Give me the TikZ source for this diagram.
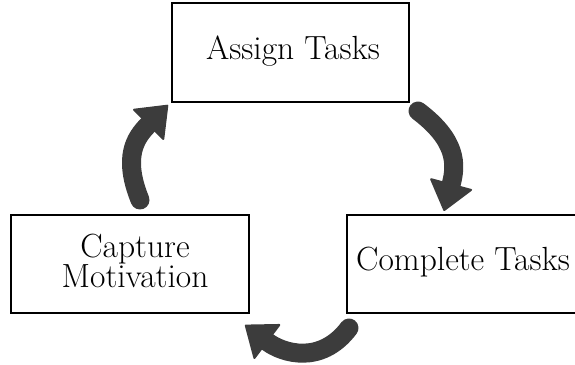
\documentclass[tikz,border=0pt]{standalone}
\usetikzlibrary{arrows.meta}
\definecolor{arrowgray}{RGB}{60,60,60}
\begin{document}
\begin{tikzpicture}[x=1pt,y=1pt,
  box/.style={draw=black, line width=1.6pt, minimum width=238pt,
    minimum height=98pt, inner sep=0pt},
  caption/.style={font=\fontsize{33.5}{29}\selectfont, align=center, inner sep=0pt},
  cyclearrow/.style={draw=arrowgray, line width=19pt, line cap=round,
    -{Triangle[length=29pt, width=45pt, line width=2pt, round]}}]
  \useasboundingbox (0,0) rectangle (575,364);

  % the three stages
  \node[box, minimum width=237pt, minimum height=99pt] (assign) at (290.5,311.5) {};
  \node[caption] (assignText) at (293,312.5) {Assign Tasks};

  \node[box] (capture) at (130,100) {};
  \node[caption] (captureText) at (135,103) {Capture\\Motivation};

  \node[box] (complete) at (466,100) {};
  \node[caption] (completeText) at (463,102) {Complete Tasks};

  % ends of the curved arrows
  \coordinate (leftTail) at (140,164);
  \coordinate (leftTip) at (168,259);
  \coordinate (rightTail) at (418,253);
  \coordinate (rightTip) at (444,153);
  \coordinate (bottomTail) at (349,36);
  \coordinate (bottomTip) at (245,39);

  % the cycle
  \draw[cyclearrow] (rightTail) to[out=-37, in=75, looseness=1.2] (rightTip);
  \draw[cyclearrow] (bottomTail) to[out=233, in=-37, looseness=1.15] (bottomTip);
  \draw[cyclearrow] (leftTail) to[out=112, in=225, looseness=1.2] (leftTip);
\end{tikzpicture}
\end{document}
